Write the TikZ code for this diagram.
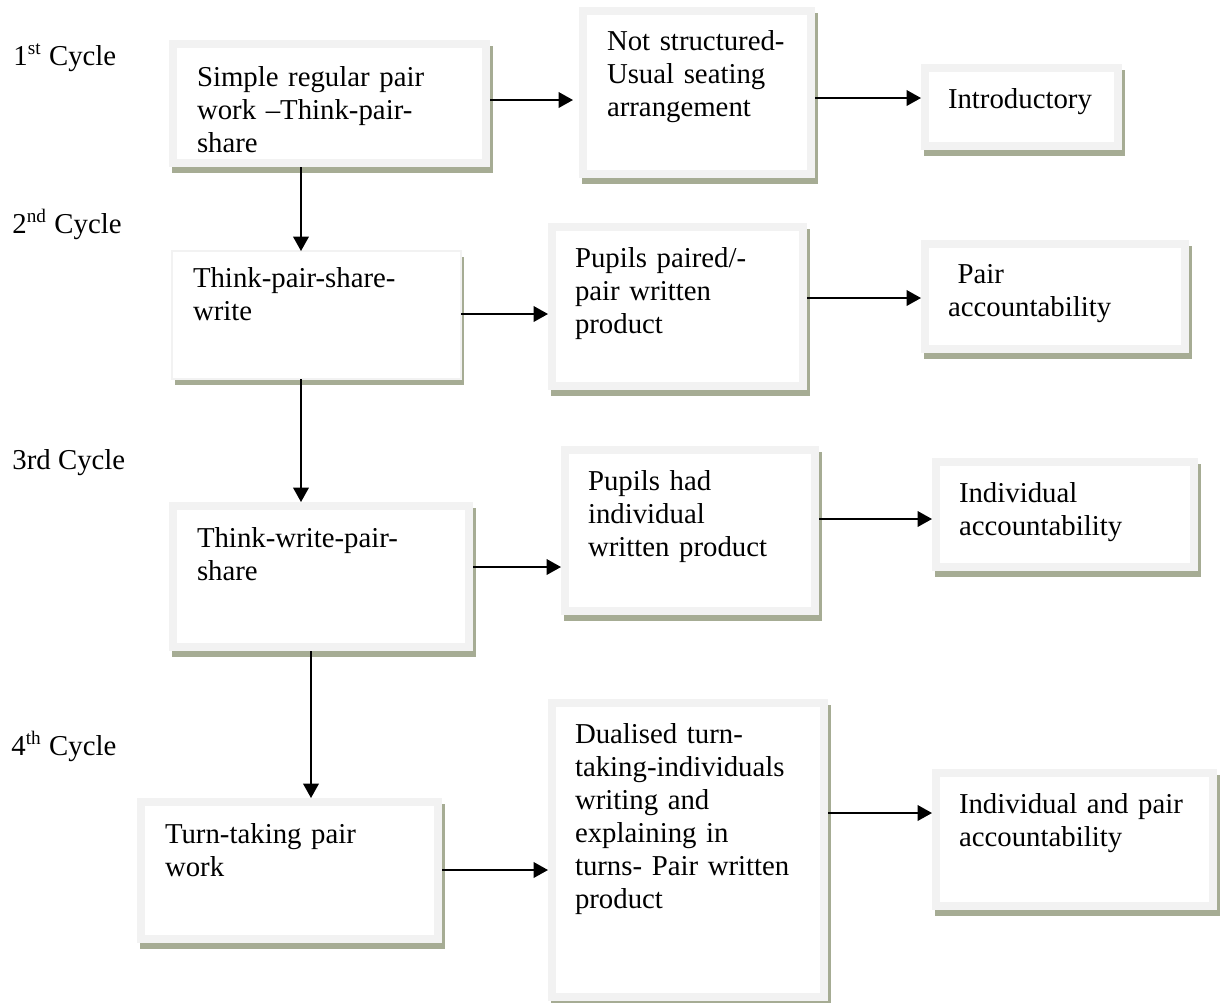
\documentclass[tikz,border=0pt]{standalone}
\usepackage{fontspec}
\setmainfont{Liberation Serif}
\usepackage{tikz}
\usetikzlibrary{arrows.meta,shadows}
\newdimen\pxu \pxu=0.41667pt
\definecolor{rimgray}{RGB}{242,242,242}
\definecolor{shadegreen}{RGB}{166,172,148}
\tikzset{
  basebox/.style  = {shape=rectangle, anchor=north west, align=left,
          inner ysep=0pt, outer sep=0pt,
          font={\fontsize{12}{13.75}\selectfont\hyphenpenalty10000 },
          drop shadow={shadow xshift=2.5\pxu, shadow yshift=-5.5\pxu,
                       fill=shadegreen, opacity=1}},
  cycbox/.style   = {basebox, fill=rimgray,
          path picture={\fill[white]
            ([shift={(8,8)}]path picture bounding box.north west) rectangle
            ([shift={(-8,-8)}]path picture bounding box.south east);}},
  thinbox/.style  = {basebox, fill=white, draw=rimgray, line width=0.5pt},
  boxsize/.style n args = {4}{inner xsep=#1\pxu, text width=#2\pxu,
          text height=#3\pxu, text depth=#4\pxu},
  cyclabel/.style = {anchor=base west, inner sep=0pt,
          font=\fontsize{12}{13.75}\selectfont},
  flow/.style     = {draw, line width=0.75pt,
          -{Triangle[length=6pt,width=6.5pt]}}
}
\begin{document}
\begin{tikzpicture}[x=\pxu, y=-\pxu]
  \useasboundingbox[fill=white] (0,0) rectangle (1221,1002);

  % cycle labels
  \node [cyclabel] (cyc1) at (13,65)  {1\textsuperscript{st} Cycle};
  \node [cyclabel] (cyc2) at (12,233) {2\textsuperscript{nd} Cycle};
  \node [cyclabel] (cyc3) at (12,469) {3rd Cycle};
  \node [cyclabel] (cyc4) at (11,755) {4\textsuperscript{th} Cycle};

  % 1st cycle
  \node [cycbox, boxsize={28}{265}{46}{81}] (simple) at (169,40)
    {Simple regular pair\\ work \textendash Think-pair-\\ share};
  \node [cycbox, boxsize={28}{180}{43}{128}] (notstruct) at (579,7)
    {Not structured-\\ Usual seating\\ arrangement};
  \node [cycbox, boxsize={27}{147}{44}{42}] (intro) at (921,64)
    {Introductory};

  % 2nd cycle
  \node [thinbox, boxsize={21}{247}{36}{92}] (tpsw) at (172,251)
    {Think-pair-share-\\ write};
  \node [cycbox, boxsize={27}{205}{44}{123}] (paired) at (548,223)
    {Pupils paired/-\\ pair written\\ product};
  \node [cycbox, boxsize={27}{214}{43}{70}] (pairacc) at (921,240)
    {\ Pair\\ accountability};

  % 3rd cycle
  \node [cycbox, boxsize={28}{248}{45}{104}] (twps) at (169,502)
    {Think-write-pair-\\ share};
  \node [cycbox, boxsize={27}{204}{44}{125}] (hadind) at (561,446)
    {Pupils had\\ individual\\ written product};
  \node [cycbox, boxsize={27}{212}{44}{69}] (indacc) at (932,458)
    {Individual\\ accountability};

  % 4th cycle
  \node [cycbox, boxsize={28}{249}{45}{100}] (turntaking) at (137,798)
    {Turn-taking pair\\ work};
  \node [cycbox, boxsize={27}{226}{44}{258}] (dualised) at (548,699)
    {Dualised turn-\\ taking-individuals\\ writing and\\ explaining in\\ turns- Pair written\\ product};
  \node [cycbox, boxsize={27}{231}{44}{97}] (indpairacc) at (932,769)
    {Individual and pair\\ accountability};

  % arrows along each cycle
  \draw [flow, shorten >=6\pxu] (simple.east |- 0,100) -- (notstruct.west |- 0,100);
  \draw [flow] (notstruct.east |- 0,98) -- (intro.west |- 0,98);
  \draw [flow] (tpsw.east |- 0,314) -- (paired.west |- 0,314);
  \draw [flow] (paired.east |- 0,298) -- (pairacc.west |- 0,298);
  \draw [flow] (twps.east |- 0,567) -- (hadind.west |- 0,567);
  \draw [flow] (hadind.east |- 0,519) -- (indacc.west |- 0,519);
  \draw [flow] (turntaking.east |- 0,870) -- (dualised.west |- 0,870);
  \draw [flow] (dualised.east |- 0,813) -- (indpairacc.west |- 0,813);

  % arrows from cycle to cycle
  \draw [flow] (simple.south -| 301,0) -- (tpsw.north -| 301,0);
  \draw [flow] (tpsw.south -| 301,0) -- (twps.north -| 301,0);
  \draw [flow] (twps.south -| 311,0) -- (turntaking.north -| 311,0);
\end{tikzpicture}
\end{document}
